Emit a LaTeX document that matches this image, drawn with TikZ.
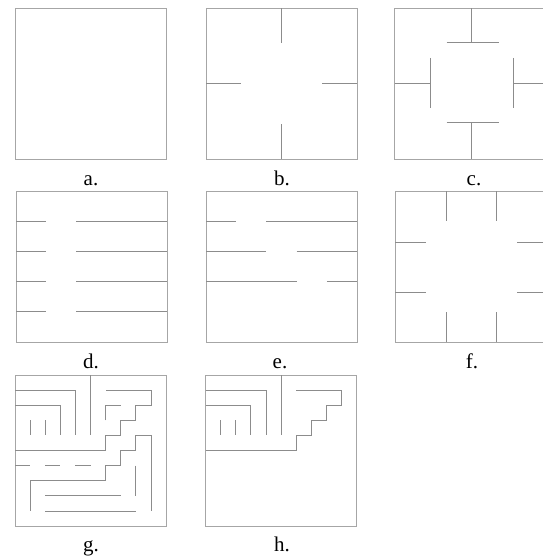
\documentclass[tikz,border=0pt]{standalone}
\usepackage{fontspec}
\setmainfont{Liberation Serif}
\tikzset{
  wall/.style={draw=black!45, line width=0.8pt},
  frame/.style={draw=black!35, line width=0.8pt},
  lab/.style={anchor=base, font=\fontsize{21}{25}\selectfont, inner sep=0pt},
  cell/.style={x=15.1pt, y=-15.1pt}
}
\begin{document}
\begin{tikzpicture}[x=1pt,y=-1pt]
\useasboundingbox (0,0) rectangle (543,558);
\clip (0,0) rectangle (543,558);
% a
\begin{scope}[shift={(15.5,8)}, cell]
\draw[frame] (0,0) rectangle (10,10);
\end{scope}
% b
\begin{scope}[shift={(206,8)}, cell]
\draw[frame] (0,0) rectangle (10,10);
\draw[wall] (5,0) -- (5,2.35);
\draw[wall] (5,10) -- (5,7.65);
\draw[wall] (0,5) -- (2.35,5);
\draw[wall] (10,5) -- (7.65,5);
\end{scope}
% c
\begin{scope}[shift={(394.5,8)}, cell]
\draw[frame] (0,0) rectangle (10,10);
\draw[wall] (5.1,0) -- (5.1,2.3);
\draw[wall] (3.45,2.3) -- (6.9,2.3);
\draw[wall] (5.1,10) -- (5.1,7.6);
\draw[wall] (3.45,7.6) -- (6.9,7.6);
\draw[wall] (0,5) -- (2.4,5);
\draw[wall] (2.4,3.3) -- (2.4,6.6);
\draw[wall] (10,5) -- (7.9,5);
\draw[wall] (7.9,3.3) -- (7.9,6.6);
\end{scope}
% d
\begin{scope}[shift={(16,191)}, cell]
\draw[frame] (0,0) rectangle (10,10);
\foreach \r in {2,4,6,8}{
  \draw[wall] (0,\r) -- (2,\r);
  \draw[wall] (4,\r) -- (10,\r);
}
\end{scope}
% e
\begin{scope}[shift={(206,191)}, cell]
\draw[frame] (0,0) rectangle (10,10);
\draw[wall] (0,2) -- (2,2);
\draw[wall] (4,2) -- (10,2);
\draw[wall] (0,4) -- (4,4);
\draw[wall] (6,4) -- (10,4);
\draw[wall] (0,6) -- (6,6);
\draw[wall] (8,6) -- (10,6);
\end{scope}
% f
\begin{scope}[shift={(395,191)}, cell]
\draw[frame] (0,0) rectangle (10,10);
\foreach \c in {3.4,6.7}{
  \draw[wall] (\c,0) -- (\c,2);
  \draw[wall] (\c,10) -- (\c,8);
  \draw[wall] (0,\c) -- (2.05,\c);
  \draw[wall] (10,\c) -- (8.1,\c);
}
\end{scope}
% g
\begin{scope}[shift={(15,375)}, cell]
\draw[frame] (0,0) rectangle (10,10);
\draw[wall] (0,1) -- (4,1) -- (4,4);
\draw[wall] (0,2) -- (3,2) -- (3,4);
\draw[wall] (1,3) -- (1,4);
\draw[wall] (2,3) -- (2,4);
\draw[wall] (5,0) -- (5,4);
\draw[wall] (0,5) -- (6,5) -- (6,4) -- (7,4) -- (7,3) -- (8,3) -- (8,2) -- (9,2) -- (9,1) -- (6,1);
\draw[wall] (6,3) -- (6,2) -- (7,2);
\draw[wall] (9,9) -- (9,4) -- (8,4) -- (8,5) -- (7,5) -- (7,6) -- (6,6) -- (6,7) -- (1,7) -- (1,9);
\draw[wall] (0,6) -- (1,6);
\draw[wall] (2,6) -- (3,6);
\draw[wall] (4,6) -- (5,6);
\draw[wall] (8,6) -- (8,8);
\draw[wall] (2,8) -- (7,8);
\draw[wall] (2,9) -- (8,9);
\end{scope}
% h
\begin{scope}[shift={(205.5,375)}, cell]
\draw[frame] (0,0) rectangle (10,10);
\draw[wall] (0,1) -- (4,1) -- (4,4);
\draw[wall] (0,2) -- (3,2) -- (3,4);
\draw[wall] (1,3) -- (1,4);
\draw[wall] (2,3) -- (2,4);
\draw[wall] (5,0) -- (5,4);
\draw[wall] (0,5) -- (6,5) -- (6,4) -- (7,4) -- (7,3) -- (8,3) -- (8,2) -- (9,2) -- (9,1) -- (6,1);
\end{scope}
% labels
\node[lab] (la) at (91,185) {a.};
\node[lab] (lb) at (282,185) {b.};
\node[lab] (lc) at (474,185) {c.};
\node[lab] (ld) at (91,368) {d.};
\node[lab] (le) at (280,368) {e.};
\node[lab] (lf) at (472,368) {f.};
\node[lab] (lg) at (91,551) {g.};
\node[lab] (lh) at (282,551) {h.};
\end{tikzpicture}
\end{document}
